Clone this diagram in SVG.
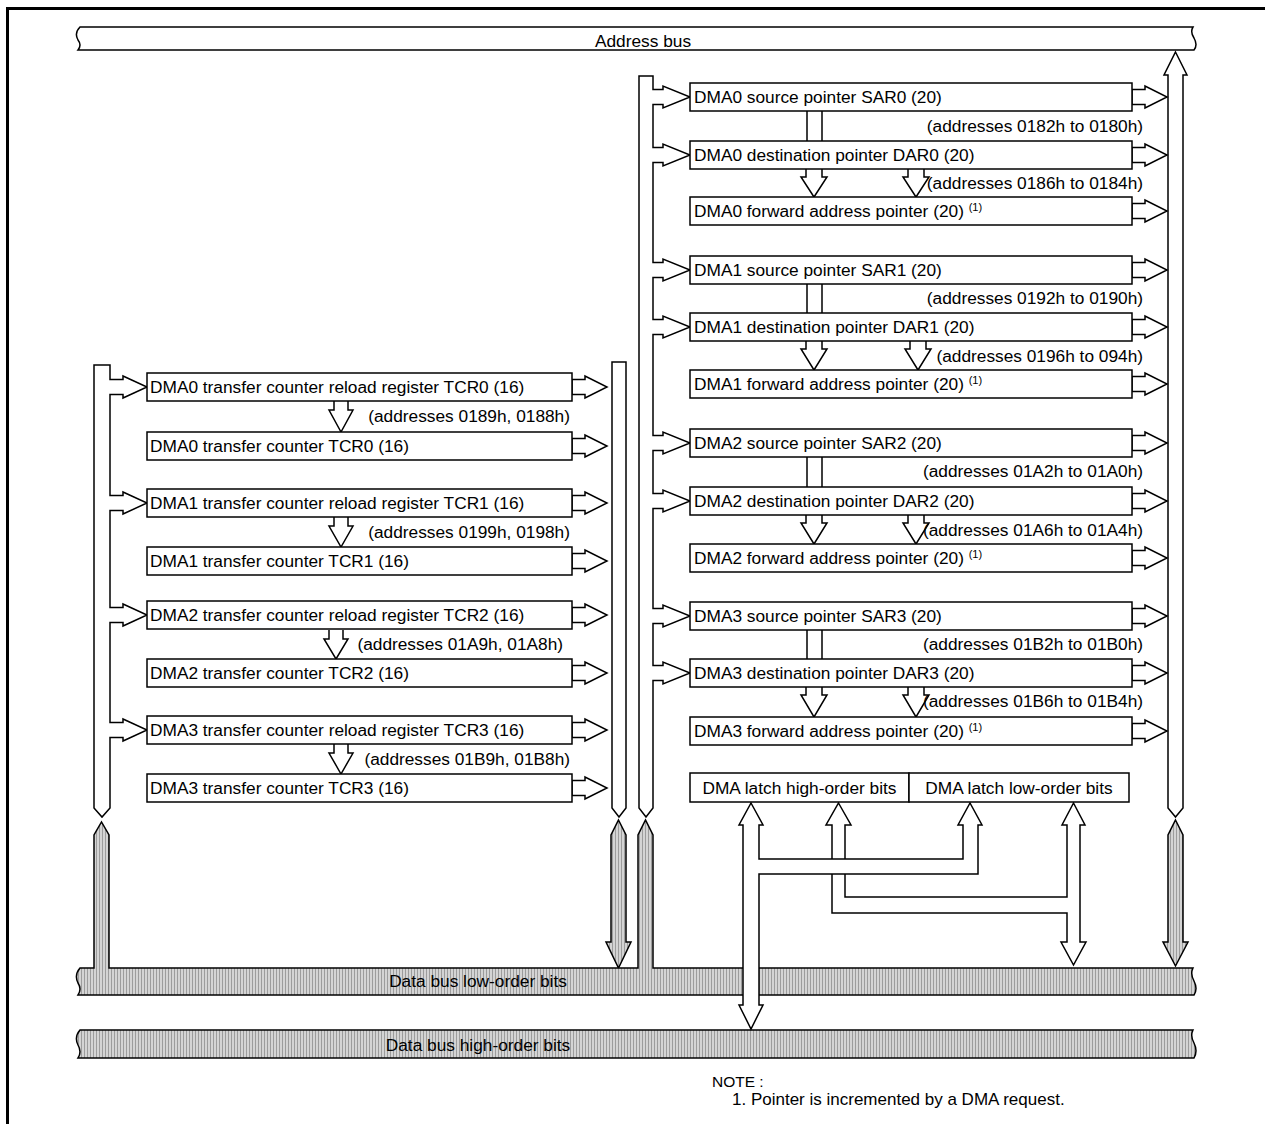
<svg xmlns="http://www.w3.org/2000/svg" width="1265" height="1124" viewBox="0 0 1265 1124">
<defs>
<pattern id="hatch" width="3" height="4" patternUnits="userSpaceOnUse">
<rect width="3" height="4" fill="#d4d4d4"/>
<rect width="1" height="4" fill="#9c9c9c"/>
</pattern>
<style>
.box{fill:#fff;stroke:#000;stroke-width:1.5}
.w{fill:#fff;stroke:#000;stroke-width:1.5;stroke-linejoin:miter}
.g{fill:url(#hatch);stroke:#000;stroke-width:1.5}
.ln{fill:none;stroke:#000;stroke-width:1.5}
text{font-family:"Liberation Sans",Arial,sans-serif;font-size:17.3px;fill:#000}
.e{text-anchor:end}
.m{text-anchor:middle}
.sup{font-size:11px}
.note{font-size:15.5px}
</style>
</defs>
<rect width="1265" height="1124" fill="#fff"/>
<!-- frame -->
<path d="M7.5,1124 V8.5 H1265" fill="none" stroke="#000" stroke-width="3"/>

<!-- Address bus -->
<g id="address-bus">
<path class="w" d="M80,27 H1193 Q1190,32 1194,38 Q1198,45 1194,50 H78 Q82,45 78,40 Q74,33 80,27 Z"/>
<text class="m" x="643" y="47">Address bus</text>
</g>

<!-- connectors -->
<g id="connectors">
<!-- left white bus with branches -->
<path class="w" d="M94,365 H110 V379.5 H123 V376 L147,387 L123,398 V394.5 H110 V495.5 H123 V492 L147,503 L123,514 V510.5 H110 V607.5 H123 V604 L147,615 L123,626 V622.5 H110 V722.5 H123 V719 L147,730 L123,741 V737.5 H110 V808 L102,817 L94,808 Z"/>
<!-- second white column -->
<path class="w" d="M612,362 H626 V808 L619,817 L612,808 Z"/>
<!-- third white column with branches -->
<path class="w" d="M639,76 H653 V89.5 H663 V86 L690,97 L663,108 V104.5 H653 V147.5 H663 V144 L690,155 L663,166 V162.5 H653 V262.5 H663 V259 L690,270 L663,281 V277.5 H653 V319.5 H663 V316 L690,327 L663,338 V334.5 H653 V435.5 H663 V432 L690,443 L663,454 V450.5 H653 V493.5 H663 V490 L690,501 L663,512 V508.5 H653 V608.5 H663 V605 L690,616 L663,627 V623.5 H653 V665.5 H663 V662 L690,673 L663,684 V680.5 H653 V808 L646,817 L639,808 Z"/>
<!-- right address column -->
<path class="w" d="M1175.5,52 L1187,75 H1183 V808 L1175.5,817 L1168,808 V75 H1164 Z"/>

<!-- right arrows from left boxes -->
<path class="w" d="M572,379.5 H585 V376 L607,387 L585,398 V394.5 H572 Z"/>
<path class="w" d="M572,438.5 H585 V435 L607,446 L585,457 V453.5 H572 Z"/>
<path class="w" d="M572,495.5 H585 V492 L607,503 L585,514 V510.5 H572 Z"/>
<path class="w" d="M572,553.5 H585 V550 L607,561 L585,572 V568.5 H572 Z"/>
<path class="w" d="M572,607.5 H585 V604 L607,615 L585,626 V622.5 H572 Z"/>
<path class="w" d="M572,665.5 H585 V662 L607,673 L585,684 V680.5 H572 Z"/>
<path class="w" d="M572,722.5 H585 V719 L607,730 L585,741 V737.5 H572 Z"/>
<path class="w" d="M572,780.5 H585 V777 L607,788 L585,799 V795.5 H572 Z"/>

<!-- right arrows from right boxes -->
<path class="w" d="M1132,89.5 H1145 V86 L1167,97 L1145,108 V104.5 H1132 Z"/>
<path class="w" d="M1132,147.5 H1145 V144 L1167,155 L1145,166 V162.5 H1132 Z"/>
<path class="w" d="M1132,203.5 H1145 V200 L1167,211 L1145,222 V218.5 H1132 Z"/>
<path class="w" d="M1132,262.5 H1145 V259 L1167,270 L1145,281 V277.5 H1132 Z"/>
<path class="w" d="M1132,319.5 H1145 V316 L1167,327 L1145,338 V334.5 H1132 Z"/>
<path class="w" d="M1132,376.5 H1145 V373 L1167,384 L1145,395 V391.5 H1132 Z"/>
<path class="w" d="M1132,435.5 H1145 V432 L1167,443 L1145,454 V450.5 H1132 Z"/>
<path class="w" d="M1132,493.5 H1145 V490 L1167,501 L1145,512 V508.5 H1132 Z"/>
<path class="w" d="M1132,550.5 H1145 V547 L1167,558 L1145,569 V565.5 H1132 Z"/>
<path class="w" d="M1132,608.5 H1145 V605 L1167,616 L1145,627 V623.5 H1132 Z"/>
<path class="w" d="M1132,665.5 H1145 V662 L1167,673 L1145,684 V680.5 H1132 Z"/>
<path class="w" d="M1132,723.5 H1145 V720 L1167,731 L1145,742 V738.5 H1132 Z"/>

<!-- left down arrows -->
<path class="w" d="M334,401 V410 H329 L341,432 L353,410 H348 V401"/>
<path class="w" d="M334,517 V526 H329 L341,547 L353,526 H348 V517"/>
<path class="w" d="M329,630 V639 H324 L336,659 L348,639 H343 V630"/>
<path class="w" d="M334,744 V753 H329 L341,774 L353,753 H348 V744"/>

<!-- SAR to DAR links -->
<path class="ln" d="M807,111 V141 M822,111 V141"/>
<path class="ln" d="M807,284 V313 M822,284 V313"/>
<path class="ln" d="M807,457 V487 M822,457 V487"/>
<path class="ln" d="M807,630 V659 M822,630 V659"/>

<!-- DAR to forward down arrows -->
<path class="w" d="M806,169 V177 H801 L814,197 L827,177 H822 V169"/>
<path class="w" d="M908,169 V177 H903 L916,197 L929,177 H924 V169"/>
<path class="w" d="M806,341 V349 H801 L814,370 L827,349 H822 V341"/>
<path class="w" d="M910,341 V349 H905 L918,370 L931,349 H926 V341"/>
<path class="w" d="M806,515 V523 H801 L814,544 L827,523 H822 V515"/>
<path class="w" d="M908,515 V523 H903 L916,544 L929,523 H924 V515"/>
<path class="w" d="M806,687 V695 H801 L814,717 L827,695 H822 V687"/>
<path class="w" d="M908,687 V695 H903 L916,717 L929,695 H924 V687"/>

<!-- gray columns -->
<path class="g" d="M618.5,820 L626,835 V942 H631 L618.5,968 L606,942 H611 V835 Z"/>
<path class="g" d="M1175.5,820 L1183,835 V942 H1188 L1175.5,966 L1163,942 H1168 V835 Z"/>
</g>

<!-- Data bus low-order bits (with merging columns) -->
<g id="data-bus-low">
<path class="g" d="M80,968 H94 V835 L101.5,822 L109,835 V968 H638 V835 L645.5,820 L653,835 V968 H1193 Q1190,974 1194,981 Q1198,989 1194,995 H78 Q82,989 78,983 Q74,975 80,968 Z"/>
<text class="m" x="478" y="987">Data bus low-order bits</text>
</g>

<!-- Data bus high-order bits -->
<g id="data-bus-high">
<path class="g" d="M80,1030 H1193 Q1190,1036 1194,1043 Q1198,1051 1194,1058 H78 Q82,1052 78,1045 Q74,1037 80,1030 Z"/>
<text class="m" x="478" y="1051">Data bus high-order bits</text>
</g>

<!-- latch connections -->
<g id="latch-connectors">
<path class="w" d="M838.5,803 L851,825 H845 V897 H1067 V825 H1062 L1073.5,803 L1085,825 H1080 V942 H1086 L1073.5,965 L1061,942 H1067 V913 H832 V825 H826 Z"/>
<path class="w" d="M751,803 L763,825 H759 V859 H963 V825 H958 L970,803 L982,825 H978 V874 H759 V1005 H763 L751,1029 L739,1005 H743 V825 H739 Z"/>
</g>

<!-- left column registers -->
<g id="tcr0-reload"><rect class="box" x="147" y="373" width="425" height="28"/><text x="150" y="393">DMA0 transfer counter reload register TCR0 (16)</text></g>
<g id="tcr0"><rect class="box" x="147" y="432" width="425" height="28"/><text x="150" y="452">DMA0 transfer counter TCR0 (16)</text></g>
<g id="tcr1-reload"><rect class="box" x="147" y="489" width="425" height="28"/><text x="150" y="509">DMA1 transfer counter reload register TCR1 (16)</text></g>
<g id="tcr1"><rect class="box" x="147" y="547" width="425" height="28"/><text x="150" y="567">DMA1 transfer counter TCR1 (16)</text></g>
<g id="tcr2-reload"><rect class="box" x="147" y="601" width="425" height="28"/><text x="150" y="621">DMA2 transfer counter reload register TCR2 (16)</text></g>
<g id="tcr2"><rect class="box" x="147" y="659" width="425" height="28"/><text x="150" y="679">DMA2 transfer counter TCR2 (16)</text></g>
<g id="tcr3-reload"><rect class="box" x="147" y="716" width="425" height="28"/><text x="150" y="736">DMA3 transfer counter reload register TCR3 (16)</text></g>
<g id="tcr3"><rect class="box" x="147" y="774" width="425" height="28"/><text x="150" y="794">DMA3 transfer counter TCR3 (16)</text></g>

<g id="left-address-labels">
<text class="e" x="570" y="422">(addresses 0189h, 0188h)</text>
<text class="e" x="570" y="538">(addresses 0199h, 0198h)</text>
<text class="e" x="563" y="650">(addresses 01A9h, 01A8h)</text>
<text class="e" x="570" y="765">(addresses 01B9h, 01B8h)</text>
</g>

<!-- right column registers -->
<g id="sar0"><rect class="box" x="690" y="83" width="442" height="28"/><text x="694" y="103">DMA0 source pointer SAR0 (20)</text></g>
<g id="dar0"><rect class="box" x="690" y="141" width="442" height="28"/><text x="694" y="161">DMA0 destination pointer DAR0 (20)</text></g>
<g id="fwd0"><rect class="box" x="690" y="197" width="442" height="28"/><text x="694" y="217">DMA0 forward address pointer (20) <tspan class="sup" dy="-6">(1)</tspan></text></g>
<g id="sar1"><rect class="box" x="690" y="256" width="442" height="28"/><text x="694" y="276">DMA1 source pointer SAR1 (20)</text></g>
<g id="dar1"><rect class="box" x="690" y="313" width="442" height="28"/><text x="694" y="333">DMA1 destination pointer DAR1 (20)</text></g>
<g id="fwd1"><rect class="box" x="690" y="370" width="442" height="28"/><text x="694" y="390">DMA1 forward address pointer (20) <tspan class="sup" dy="-6">(1)</tspan></text></g>
<g id="sar2"><rect class="box" x="690" y="429" width="442" height="28"/><text x="694" y="449">DMA2 source pointer SAR2 (20)</text></g>
<g id="dar2"><rect class="box" x="690" y="487" width="442" height="28"/><text x="694" y="507">DMA2 destination pointer DAR2 (20)</text></g>
<g id="fwd2"><rect class="box" x="690" y="544" width="442" height="28"/><text x="694" y="564">DMA2 forward address pointer (20) <tspan class="sup" dy="-6">(1)</tspan></text></g>
<g id="sar3"><rect class="box" x="690" y="602" width="442" height="28"/><text x="694" y="622">DMA3 source pointer SAR3 (20)</text></g>
<g id="dar3"><rect class="box" x="690" y="659" width="442" height="28"/><text x="694" y="679">DMA3 destination pointer DAR3 (20)</text></g>
<g id="fwd3"><rect class="box" x="690" y="717" width="442" height="28"/><text x="694" y="737">DMA3 forward address pointer (20) <tspan class="sup" dy="-6">(1)</tspan></text></g>

<g id="right-address-labels">
<text class="e" x="1143" y="132">(addresses 0182h to 0180h)</text>
<text class="e" x="1143" y="189">(addresses 0186h to 0184h)</text>
<text class="e" x="1143" y="304">(addresses 0192h to 0190h)</text>
<text class="e" x="1143" y="362">(addresses 0196h to 094h)</text>
<text class="e" x="1143" y="477">(addresses 01A2h to 01A0h)</text>
<text class="e" x="1143" y="536">(addresses 01A6h to 01A4h)</text>
<text class="e" x="1143" y="650">(addresses 01B2h to 01B0h)</text>
<text class="e" x="1143" y="707">(addresses 01B6h to 01B4h)</text>
</g>

<g id="latch-high"><rect class="box" x="690" y="773" width="219" height="29"/><text class="m" x="799.5" y="794">DMA latch high-order bits</text></g>
<g id="latch-low"><rect class="box" x="909" y="773" width="220" height="29"/><text class="m" x="1019" y="794">DMA latch low-order bits</text></g>

<g id="note">
<text class="note" x="712" y="1087">NOTE :</text>
<text x="732" y="1105" style="font-size:17px">1. Pointer is incremented by a DMA request.</text>
</g>
</svg>
